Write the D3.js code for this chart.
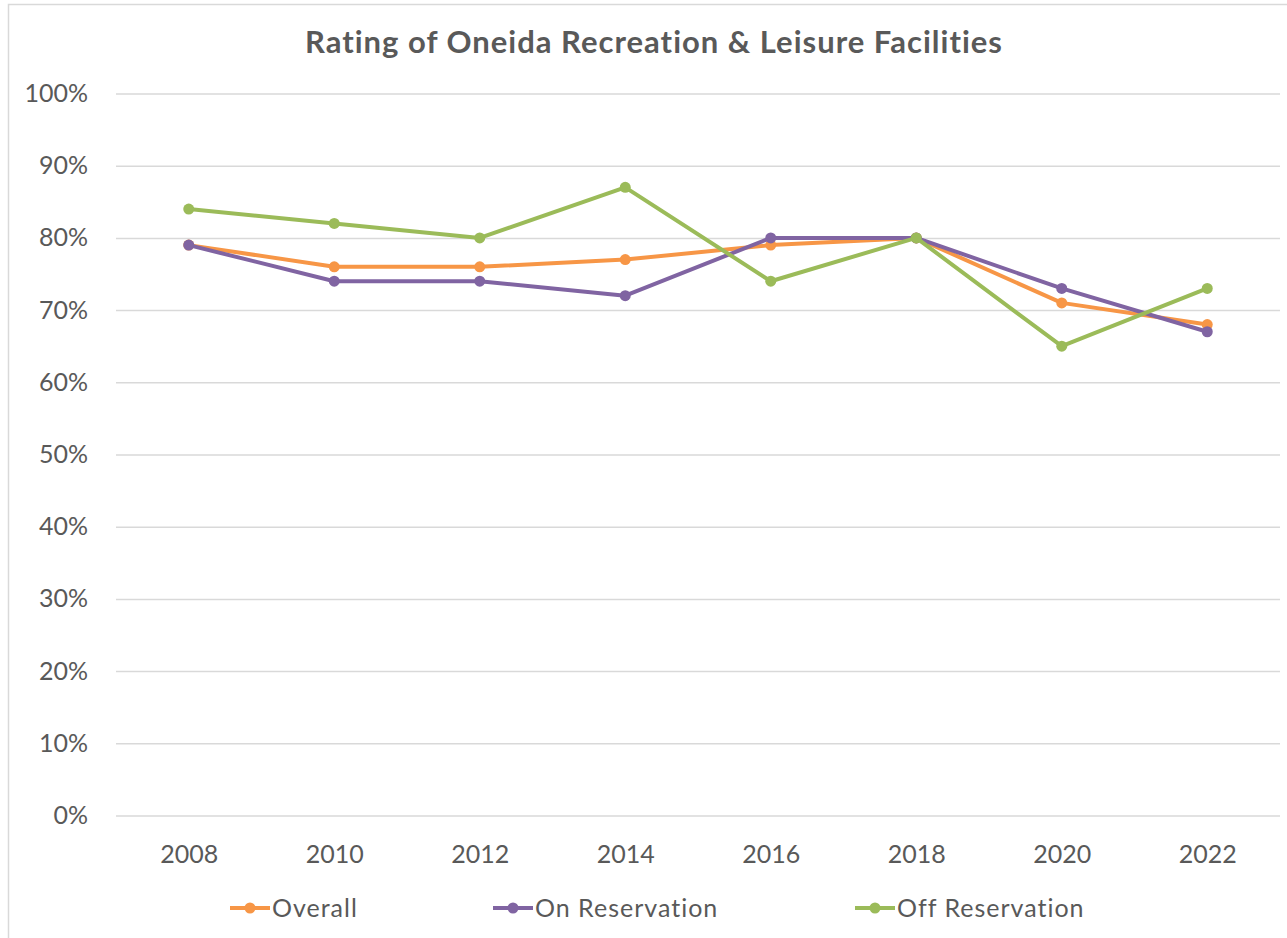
<!DOCTYPE html>
<html>
<head>
<meta charset="utf-8">
<script src="https://cdn.jsdelivr.net/npm/d3@7"></script>
<style>
  body { margin: 0; background: #fff; }
  svg { font-family: Lato, "Open Sans", sans-serif; }
</style>
</head>
<body>
<svg width="1287" height="938"></svg>
<script>
var years = ["2008", "2010", "2012", "2014", "2016", "2018", "2020", "2022"];
var overall = [79, 76, 76, 77, 79, 80, 71, 68];
var onReservation = [79, 74, 74, 72, 80, 80, 73, 67];
var offReservation = [84, 82, 80, 87, 74, 80, 65, 73];
var seriesNames = ["Overall", "On Reservation", "Off Reservation"];
var seriesColors = ["#F79646", "#8064A2", "#9BBB59"];
var yTicks = [0, 10, 20, 30, 40, 50, 60, 70, 80, 90, 100];

function createChart() {
    const svg = d3.select("svg");
    const left = 116, right = 1280, top = 93.5, bottom = 815.5;

    svg.append("rect")
        .attr("x", 8.5).attr("y", 4.5)
        .attr("width", 1300).attr("height", 960)
        .style("fill", "none").style("stroke", "#d9d9d9").style("stroke-width", 1.5);

    svg.append("text")
        .attr("x", 654).attr("y", 53)
        .attr("text-anchor", "middle")
        .style("font-size", "31px").style("font-weight", "bold")
        .style("letter-spacing", "1px")
        .style("fill", "#595959")
        .text("Rating of Oneida Recreation & Leisure Facilities");

    const xScale = d3.scalePoint().domain(years).range([left, right]).padding(0.5);
    const yScale = d3.scaleLinear().domain([0, 100]).range([bottom, top]);

    const yAxis = d3.axisLeft()
        .scale(yScale)
        .tickValues(yTicks)
        .tickSize(-(right - left))
        .tickPadding(28)
        .tickFormat(d => d + "%");
    const yG = svg.append("g")
        .attr("id", "yAxisG")
        .attr("transform", `translate(${left},0)`)
        .call(yAxis);
    yG.select(".domain").remove();
    yG.selectAll("line").style("stroke", "#d9d9d9").style("stroke-width", 1.5);
    yG.selectAll("text").style("font-size", "25px").style("fill", "#595959")
        .style("font-family", "Lato, sans-serif");

    const xAxis = d3.axisBottom().scale(xScale).tickSize(0).tickPadding(30);
    const xG = svg.append("g")
        .attr("id", "xAxisG")
        .attr("transform", `translate(0,${bottom})`)
        .call(xAxis);
    xG.select(".domain").remove();
    xG.selectAll("text").style("font-size", "25px").style("fill", "#595959")
        .style("font-family", "Lato, sans-serif");

    const allSeries = [overall, onReservation, offReservation];
    const line = d3.line()
        .x((d, i) => xScale(years[i]))
        .y(d => yScale(d));

    allSeries.forEach((values, s) => {
        svg.append("path")
            .datum(values)
            .attr("d", line)
            .style("fill", "none")
            .style("stroke", seriesColors[s])
            .style("stroke-width", 4)
            .style("stroke-linejoin", "round");
        svg.selectAll("circle.s" + s)
            .data(values)
            .enter()
            .append("circle")
            .attr("class", "s" + s)
            .attr("r", 5.5)
            .attr("cx", (d, i) => xScale(years[i]))
            .attr("cy", d => yScale(d))
            .style("fill", seriesColors[s]);
    });

    const legendX = [230, 493, 855];
    const legend = svg.append("g").attr("id", "legend");
    seriesNames.forEach((name, s) => {
        const g = legend.append("g").attr("transform", `translate(${legendX[s]},908)`);
        g.append("line").attr("x1", 0).attr("x2", 40)
            .style("stroke", seriesColors[s]).style("stroke-width", 4);
        g.append("circle").attr("cx", 20).attr("r", 5.5).style("fill", seriesColors[s]);
        g.append("text").attr("x", 42).attr("y", 9)
            .style("font-size", "25px").style("letter-spacing", "1px")
            .style("fill", "#595959")
            .text(name);
    });
}
createChart();
</script>
</body>
</html>
